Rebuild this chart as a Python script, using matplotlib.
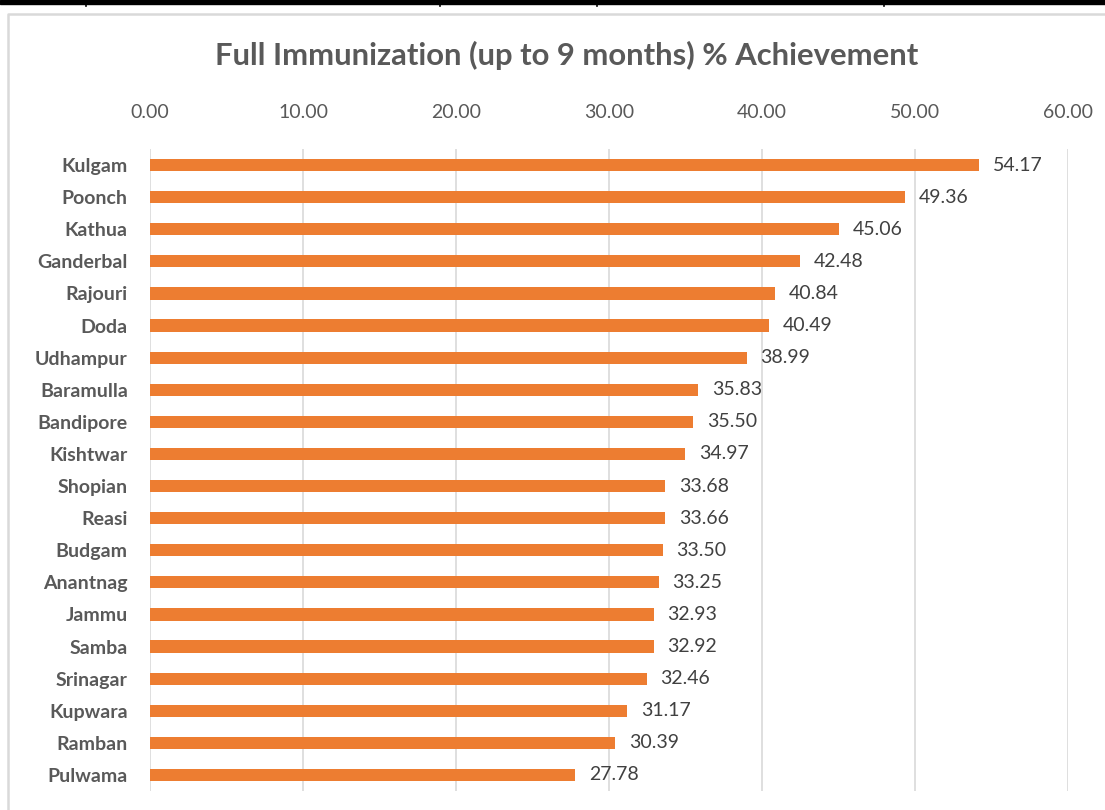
import matplotlib.pyplot as plt
from matplotlib.lines import Line2D
from matplotlib.patches import Rectangle

# District-wise full immunization achievement (%)
districts = ["Kulgam", "Poonch", "Kathua", "Ganderbal", "Rajouri", "Doda",
             "Udhampur", "Baramulla", "Bandipore", "Kishtwar", "Shopian",
             "Reasi", "Budgam", "Anantnag", "Jammu", "Samba", "Srinagar",
             "Kupwara", "Ramban", "Pulwama"]
achievement = [54.17, 49.36, 45.06, 42.48, 40.84, 40.49, 38.99, 35.83,
               35.50, 34.97, 33.68, 33.66, 33.50, 33.25, 32.93, 32.92,
               32.46, 31.17, 30.39, 27.78]
x_ticks = [0, 10, 20, 30, 40, 50, 60]

plt.rcParams['font.family'] = ['Lato', 'DejaVu Sans']

fig = plt.figure(figsize=(11.05, 8.1), dpi=100)

# outer chart frame (top and left edges visible) and table border at the top
W, H = 1105, 810
fig.lines.append(Line2D([8 / W, 8 / W, 1], [0, 1 - 14 / H, 1 - 14 / H],
                        transform=fig.transFigure, color='#d9d9d9', linewidth=1.8))
fig.patches.append(Rectangle((0, 1 - 4 / H), 1, 4 / H,
                             transform=fig.transFigure, color='black'))
for xp in [86, 440, 597, 884]:
    fig.lines.append(Line2D([xp / W, xp / W], [1, 1 - 6 / H],
                            transform=fig.transFigure, color='black', linewidth=1.2))

ax = fig.add_axes([150 / W, 1 - 791 / H, (1068 - 150) / W, (791 - 149) / H])

pos = list(range(len(districts)))
ax.barh(pos, achievement, height=0.38, color='#ed7d31', zorder=3)
for p, v in zip(pos, achievement):
    ax.text(v + 0.9, p, f"{v:.2f}", va='center', ha='left',
            fontsize=14, color='#404040')

ax.set_ylim(len(districts) - 0.5, -0.5)
ax.set_xlim(0, 60)
ax.set_yticks(pos)
ax.set_yticklabels(districts, fontsize=14, fontweight='bold', color='#595959')
ax.set_xticks(x_ticks)
ax.set_xticklabels([f"{t:.2f}" for t in x_ticks], fontsize=14, color='#595959')
ax.xaxis.tick_top()
ax.tick_params(axis='both', length=0)
ax.tick_params(axis='x', pad=20)
ax.tick_params(axis='y', pad=16)
ax.grid(axis='x', color='#d9d9d9', linewidth=1.2, zorder=0)
for s in ax.spines.values():
    s.set_visible(False)

fig.text(567 / W, 1 - 55 / H, "Full Immunization (up to 9 months) % Achievement",
         ha='center', va='center', fontsize=22.3, fontweight='bold', color='#595959')

fig.savefig("out.png", dpi=100)
